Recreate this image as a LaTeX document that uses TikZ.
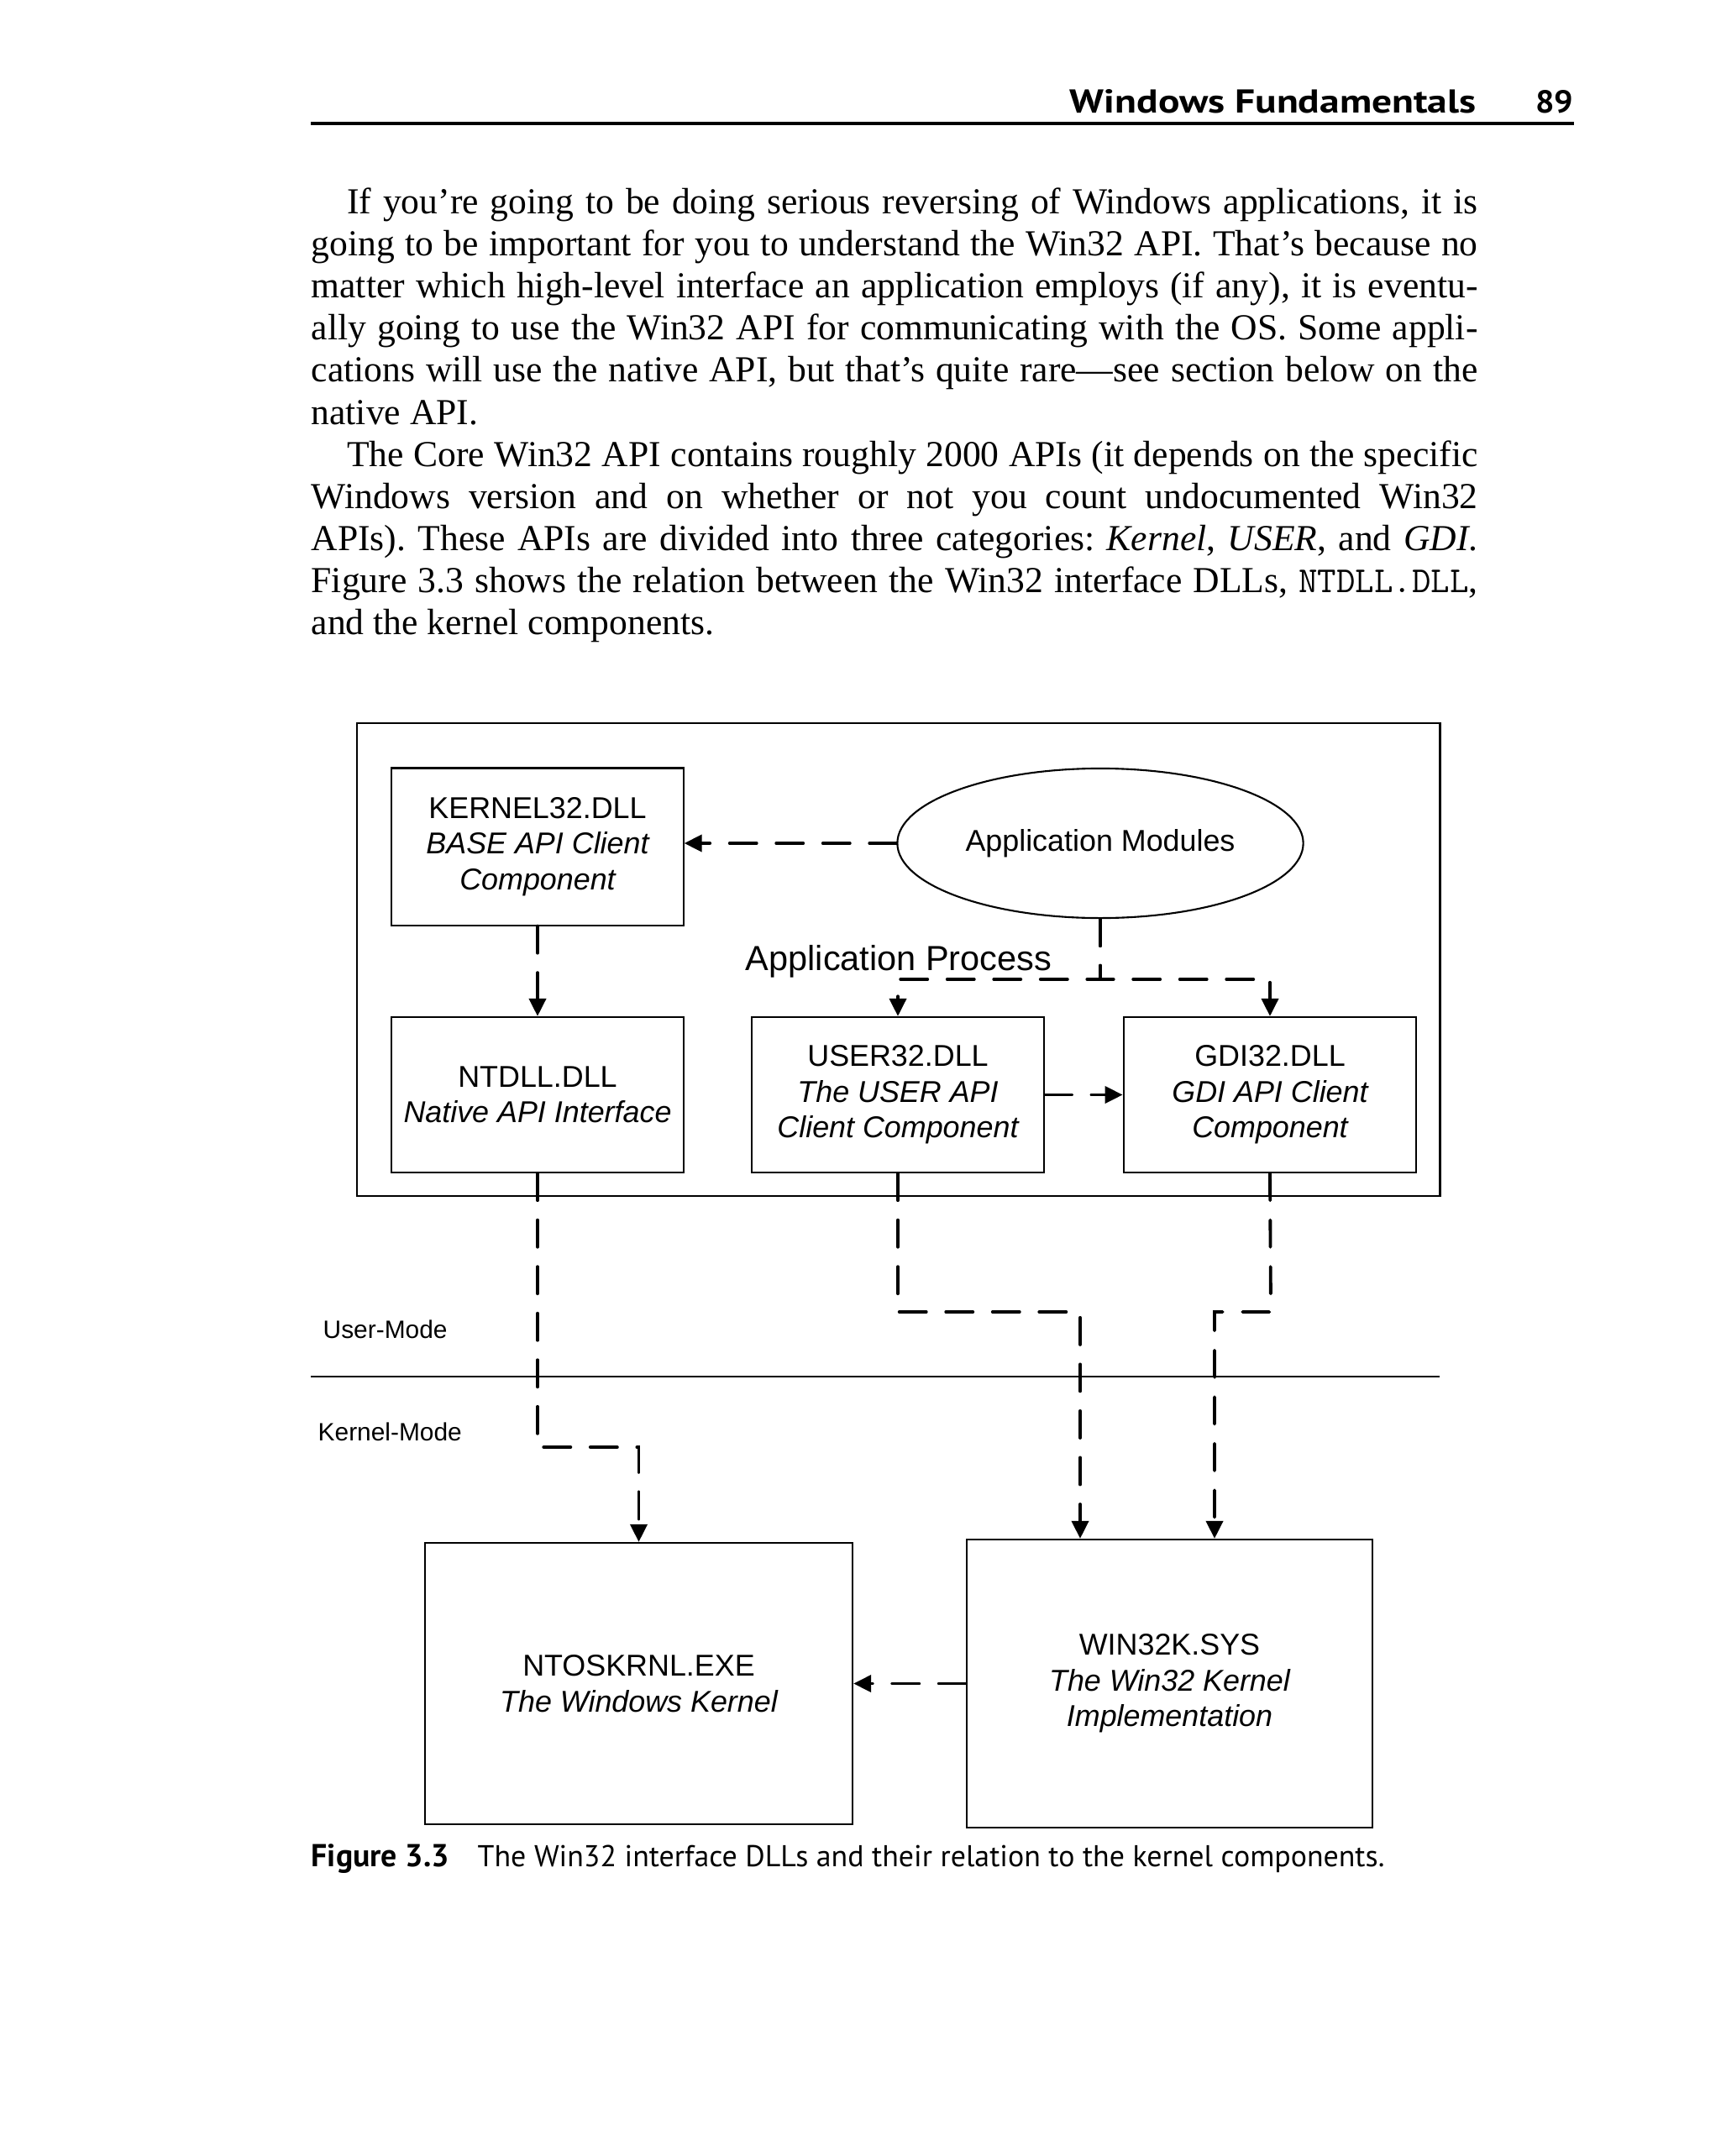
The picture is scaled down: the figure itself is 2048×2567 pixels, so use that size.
\documentclass[tikz,border=0pt]{standalone}
\usepackage{graphicx}
\usepackage{fontspec}
\setmainfont{Liberation Serif}
\newfontfamily\arialf{Liberation Sans}
\newfontfamily\hdrf{PT Sans}
\usetikzlibrary{arrows.meta,shapes.geometric,calc}
\begin{document}
\frenchspacing
\begin{tikzpicture}[x=0.01cm,y=-0.01cm,
  box/.style={draw,line width=0.6pt,inner sep=0pt,align=center,
    font=\arialf\fontsize{10.2}{12.1}\selectfont},
  conn/.style={line width=1.1pt,line cap=round,dash pattern=on 0.32cm off 0.235cm,
    -{Triangle[length=0.21cm,width=0.2cm]}},
  bodyline/.style={anchor=base west,inner sep=0pt,font=\fontsize{12.4}{14}\selectfont},
  modelbl/.style={anchor=base west,inner sep=0pt,font=\arialf\fontsize{8.5}{10}\selectfont}
]
\fill[white] (0,0) rectangle (2048,2567);
\useasboundingbox (0,0) rectangle (2048,2567);

% header
\node[anchor=base east,inner sep=0pt] (hdr) at (1758,135) {\resizebox{4.83cm}{0.28cm}{\hdrf\bfseries Windows Fundamentals}};
\node[anchor=base east,inner sep=0pt] (pg) at (1874,135) {\resizebox{0.45cm}{0.27cm}{\hdrf\bfseries 89}};
\draw[line width=0.9pt] (370,147) -- (1874,147);

% body text
\node[bodyline] (l1) at (412.5,255) {\makebox[13.455cm][s]{If you’re going to be doing serious reversing of Windows applications, it is}};
\node[bodyline] (l2) at (370,305) {\makebox[13.88cm][s]{going to be important for you to understand the Win32 API. That’s because no}};
\node[bodyline] (l3) at (370,355) {\makebox[13.88cm][s]{matter which high-level interface an application employs (if any), it is eventu-}};
\node[bodyline] (l4) at (370,405) {\makebox[13.88cm][s]{ally going to use the Win32 API for communicating with the OS. Some appli-}};
\node[bodyline] (l5) at (370,455) {\makebox[13.88cm][s]{cations will use the native API, but that’s quite rare—see section below on the}};
\node[bodyline] (l6) at (370,505) {native API.};
\node[bodyline] (l7) at (412.5,555) {\makebox[13.455cm][s]{The Core Win32 API contains roughly 2000 APIs (it depends on the specific}};
\node[bodyline] (l8) at (370,605) {\makebox[13.88cm][s]{Windows version and on whether or not you count undocumented Win32}};
\node[bodyline] (l9) at (370,655) {\makebox[13.88cm][s]{APIs). These APIs are divided into three categories: \textit{Kernel}, \textit{USER}, and \textit{GDI}.}};
\node[bodyline] (l10) at (370,705) {\makebox[13.88cm][s]{Figure 3.3 shows the relation between the Win32 interface DLLs, \texttt{NTDLL.DLL},}};
\node[bodyline] (l11) at (370,755) {and the kernel components.};

% diagram
\node[draw,line width=0.6pt,inner sep=0pt,minimum width=12.885cm,minimum height=5.63cm] (proc) at (1069.8,1142.5) {};
\node[box,minimum width=3.47cm,minimum height=1.87cm] (k32) at (640,1008)
  {KERNEL32.DLL\\\itshape BASE API Client\\\itshape Component};
\node[draw,ellipse,line width=0.6pt,inner sep=0pt,minimum width=4.83cm,minimum height=1.78cm,
  font=\arialf\fontsize{10.2}{12.1}\selectfont] (app) at (1310,1004) {Application Modules};
\node[anchor=base,inner sep=0pt,font=\arialf\fontsize{11.8}{14}\selectfont] (aptxt) at (1070,1155) {Application Process};
\node[box,minimum width=3.47cm,minimum height=1.85cm] (ntdll) at (640,1303.5)
  {NTDLL.DLL\\\itshape Native API Interface};
\node[box,minimum width=3.475cm,minimum height=1.85cm] (user) at (1069,1303.5)
  {USER32.DLL\\\itshape The USER API\\\itshape Client Component};
\node[box,minimum width=3.485cm,minimum height=1.85cm] (gdi) at (1512,1303.5)
  {GDI32.DLL\\\itshape GDI API Client\\\itshape Component};
\node[box,minimum width=5.09cm,minimum height=3.35cm] (ntos) at (760.5,2004.5)
  {NTOSKRNL.EXE\\\itshape The Windows Kernel};
\node[box,minimum width=4.83cm,minimum height=3.43cm] (win) at (1392.5,2004.5)
  {WIN32K.SYS\\\itshape The Win32 Kernel\\\itshape Implementation};

% user / kernel separator
\coordinate (sepL) at (370,1639);
\coordinate (sepR) at (1714,1639);
\draw[line width=0.6pt] (sepL) -- (sepR);
\node[modelbl] (um) at (384,1593) {User-Mode};
\node[modelbl] (km) at (378,1715) {Kernel-Mode};

% connectors
\draw[conn] (app.west) -- (app.west -| k32.east);
\draw[conn] (k32.south) -- (ntdll.north);
\coordinate (bus) at (1311,1166);
\draw[conn] (app.south) -- (app.south |- bus) -| (user.north);
\draw[conn] (app.south) -- (app.south |- bus) -| (gdi.north);
\draw[conn] (user.east) -- (gdi.west);
\draw[conn] (ntdll.south) -- (640,1723) -| (ntos.north);
\draw[conn] (user.south) -- (1069,1562) -| (1286,0 |- win.north);
\draw[conn] (gdi.south) -- (1513,1562) -| (1446,0 |- win.north);
\draw[conn] (win.west) -- (ntos.east);

% caption
\node[anchor=base west,inner sep=0pt] (figlbl) at (370,2222) {\resizebox{1.64cm}{!}{\hdrf\bfseries Figure 3.3}};
\node[anchor=base west,inner sep=0pt] (cap) at (568,2222) {\resizebox{10.79cm}{!}{\hdrf The Win32 interface DLLs and their relation to the kernel components.}};
\end{tikzpicture}
\end{document}
